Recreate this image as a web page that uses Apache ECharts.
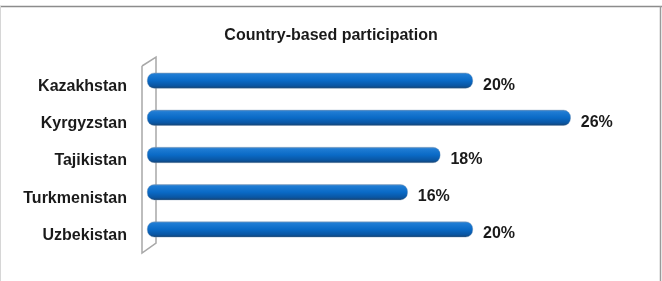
<!DOCTYPE html>
<html>
<head>
<meta charset="utf-8">
<script src="https://cdn.jsdelivr.net/npm/echarts@6/dist/echarts.min.js"></script>
<style>
html,body{margin:0;padding:0;background:#fff;}
#chart{width:662px;height:281px;}
</style>
</head>
<body>
<div id="chart"></div>
<script>
var categories = ['Kazakhstan', 'Kyrgyzstan', 'Tajikistan', 'Turkmenistan', 'Uzbekistan'];
var values = [20, 26, 18, 16, 20];
var titleText = 'Country-based participation';

var W = 662, H = 281;
var gridLeft = 147, gridTop = 62, gridHeight = 186, gridRight = 26;
var font = "'Liberation Sans', Arial, sans-serif";

var chart = echarts.init(document.getElementById('chart'), null, {renderer: 'canvas'});

var wallL = gridLeft - 5, wallR = gridLeft + 9;
var gBottom = gridTop + gridHeight;

chart.setOption({
  animation: false,
  backgroundColor: '#ffffff',
  title: {
    text: titleText,
    left: 'center',
    top: 23,
    textStyle: {fontFamily: font, fontSize: 16, fontWeight: 'bold', color: '#1a1a1a'}
  },
  grid: {left: gridLeft, right: gridRight, top: gridTop, height: gridHeight, containLabel: false},
  xAxis: {
    type: 'value', min: 0, max: 30,
    show: false
  },
  yAxis: {
    type: 'category',
    data: categories,
    inverse: true,
    axisLine: {show: false},
    axisTick: {show: false},
    axisLabel: {
      margin: 20,
      fontFamily: font, fontSize: 16, fontWeight: 'bold', color: '#1a1a1a',
      verticalAlign: 'top',
      lineHeight: 12
    }
  },
  graphic: [
    {type: 'line', z: 0, shape: {x1: 0, y1: 6.5, x2: W, y2: 6.5}, style: {stroke: '#8c8c8c', lineWidth: 1.5}},
    {type: 'line', z: 0, shape: {x1: 0.5, y1: 6, x2: 0.5, y2: H}, style: {stroke: '#d6d6d6', lineWidth: 1}},
    {type: 'line', z: 0, shape: {x1: 660.5, y1: 6, x2: 660.5, y2: H}, style: {stroke: '#9a9a9a', lineWidth: 1.5}},
    {type: 'polyline', z: 0,
      shape: {points: [[wallL, gridTop + 4], [wallR, gridTop - 5], [wallR, gBottom - 5], [wallL, gBottom + 5], [wallL, gridTop + 4]]},
      style: {stroke: '#a8a8a8', lineWidth: 1.5, fill: null}}
  ],
  series: [{
    type: 'bar',
    data: values,
    barWidth: 16,
    z: 5,
    itemStyle: {
      borderRadius: 7,
      borderColor: 'rgba(110,140,175,0.6)',
      borderWidth: 0.6,
      color: new echarts.graphic.LinearGradient(0, 0, 0, 1, [
        {offset: 0, color: '#6596c6'},
        {offset: 0.12, color: '#1f7cd4'},
        {offset: 0.5, color: '#0a6ac6'},
        {offset: 0.82, color: '#0a56a3'},
        {offset: 1, color: '#17426e'}
      ])
    },
    label: {
      show: true,
      position: 'right',
      distance: 10,
      formatter: function (p) { return p.value + '%'; },
      fontFamily: font, fontSize: 16, fontWeight: 'bold', color: '#1a1a1a',
      verticalAlign: 'top',
      lineHeight: 9
    }
  }]
});
</script>
</body>
</html>
